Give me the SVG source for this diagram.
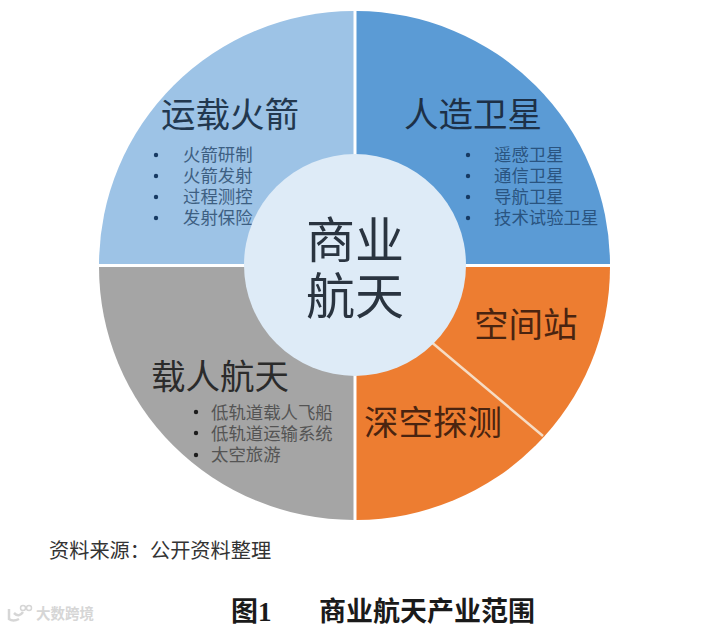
<svg xmlns="http://www.w3.org/2000/svg" width="709" height="628" viewBox="0 0 709 628">
<style>
text{font-family:"Noto Sans CJK SC","Liberation Serif",sans-serif}
.t{font-size:34.500px;font-weight:400}
.l{font-size:17.400px;font-weight:400}
.sep{stroke:#f6dcc4;stroke-width:2.500;fill:none}
</style>
<rect width="709" height="628" fill="#ffffff"/>
<g id="sector-rocket">
<path d="M353.500 264H99A255 254 0 0 1 353.500 11Z" fill="#9dc3e6"/>
<text class="t" x="161" y="127" fill="#22384f">运载火箭</text>
<g fill="#173a63"><circle cx="156" cy="155" r="2.200"/><circle cx="156" cy="176" r="2.200"/><circle cx="156" cy="197" r="2.200"/><circle cx="156" cy="218" r="2.200"/></g>
<text class="l" fill="#3d5f82"><tspan x="183" y="161">火箭研制</tspan><tspan x="183" y="182">火箭发射</tspan><tspan x="183" y="203">过程测控</tspan><tspan x="183" y="224">发射保险</tspan></text>
</g>
<g id="sector-satellite">
<path d="M356.500 264H610A255 254 0 0 0 356.500 11Z" fill="#5b9bd5"/>
<text class="t" x="404" y="127" fill="#1d3047">人造卫星</text>
<g fill="#173a63"><circle cx="468" cy="155" r="2.200"/><circle cx="468" cy="176" r="2.200"/><circle cx="468" cy="197" r="2.200"/><circle cx="468" cy="218" r="2.200"/></g>
<text class="l" fill="#2a5480"><tspan x="494" y="161">遥感卫星</tspan><tspan x="494" y="182">通信卫星</tspan><tspan x="494" y="203">导航卫星</tspan><tspan x="494" y="224">技术试验卫星</tspan></text>
</g>
<g id="sector-human">
<path d="M353.500 267H99A255 253 0 0 0 353.500 520Z" fill="#a5a5a5"/>
<text class="t" x="151" y="389" fill="#2b2b2b">载人航天</text>
<g fill="#1c1c1c"><circle cx="196" cy="412" r="2.200"/><circle cx="196" cy="433" r="2.200"/><circle cx="196" cy="455" r="2.200"/></g>
<text class="l" fill="#545454"><tspan x="211" y="419">低轨道载人飞船</tspan><tspan x="211" y="440">低轨道运输系统</tspan><tspan x="211" y="461">太空旅游</tspan></text>
</g>
<g id="sector-orange">
<path d="M356.500 267H610A255 253 0 0 1 356.500 520Z" fill="#ed7d31"/>
<text class="t" x="474" y="337" fill="#4a2410">空间站</text>
<text class="t" x="364" y="435" fill="#4a2410">深空探测</text>
</g>
<g id="connectors">
<path class="sep" d="M432.500 343L543 436"/>
</g>
<g id="center">
<circle cx="355" cy="265" r="111" fill="#deebf7"/>
<text font-size="49" fill="#2a3440" text-anchor="middle"><tspan x="355" y="258">商业</tspan><tspan x="355" y="314">航天</tspan></text>
</g>
<g id="caption">
<text x="49" y="558" font-size="20.200" fill="#333333">资料来源：公开资料整理</text>
<text x="231" y="621" font-size="27" font-weight="700" fill="#1a1a1a" style="font-family:'Liberation Serif','Noto Sans CJK SC',serif">图1</text>
<text x="319" y="621" font-size="27" font-weight="700" fill="#1a1a1a">商业航天产业范围</text>
</g>
<g id="watermark">
<path d="M9 609V619Q13 622 19 619M14 613Q19 618 23 612" fill="none" stroke="#d6d6d6" stroke-width="2.500"/>
<circle cx="23" cy="608" r="2.500" fill="none" stroke="#d6d6d6" stroke-width="1.500"/><circle cx="29" cy="608" r="2.500" fill="none" stroke="#d6d6d6" stroke-width="1.500"/>
<text x="36" y="619" font-size="14.500" font-weight="700" fill="#d6d6d6">大数跨境</text>
</g>
</svg>
